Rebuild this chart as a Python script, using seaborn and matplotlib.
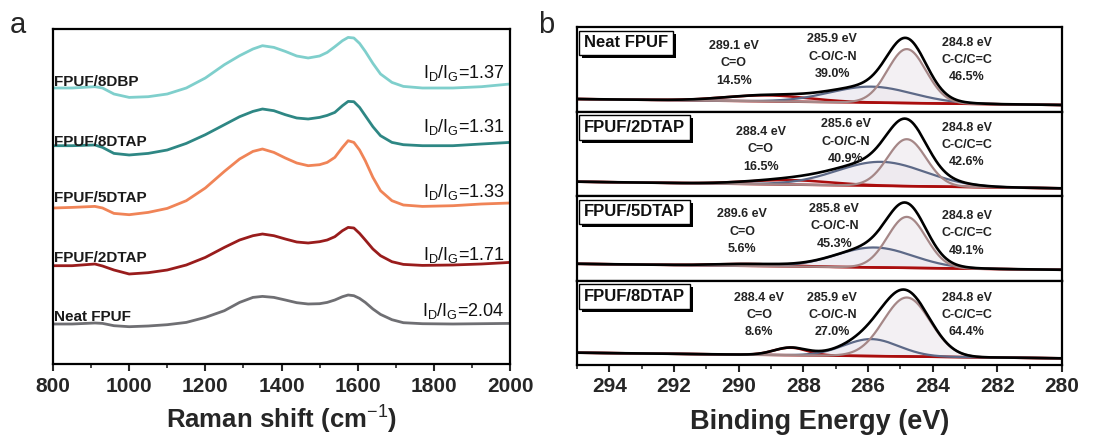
import numpy as np
import pandas as pd
import matplotlib
matplotlib.use("Agg")
import matplotlib.pyplot as plt
import matplotlib.patheffects as pe
from matplotlib.ticker import MultipleLocator
import seaborn as sns

# ---------------- data: Raman spectra (panel a) ----------------
raman_shift = [800, 850, 910, 930, 960, 1000, 1050, 1100, 1150, 1200, 1250, 1290, 1325, 1350,
               1380, 1410, 1440, 1470, 1500, 1520, 1540, 1560, 1575, 1590, 1605, 1620, 1640,
               1660, 1690, 1720, 1770, 1850, 1925, 2000]
raman_8dbp = [276.0, 276.0, 277.3, 276.0, 270.0, 266.6, 267.3, 270.0, 276.0, 286.0, 299.3, 308.3,
              315.0, 318.3, 316.6, 312.6, 308.0, 306.0, 308.0, 311.6, 317.3, 323.3, 326.6, 326.0,
              320.6, 312.6, 300.6, 290.0, 281.6, 277.6, 276.0, 276.0, 277.3, 280.0]
raman_8dtap = [218.3, 218.3, 219.0, 216.6, 210.6, 209.0, 210.6, 214.0, 220.6, 229.3, 239.3, 247.3,
               252.6, 255.0, 253.3, 249.3, 246.0, 245.0, 246.6, 248.6, 251.6, 258.3, 262.6, 262.3,
               256.6, 248.3, 237.3, 228.3, 221.6, 219.3, 218.3, 218.3, 220.0, 221.6]
raman_5dtap = [156.0, 156.6, 157.6, 156.0, 150.6, 149.3, 151.6, 155.6, 163.3, 176.0, 192.6, 205.0,
               212.6, 215.0, 211.6, 206.0, 201.0, 198.3, 199.3, 201.6, 206.6, 216.6, 223.3, 221.6,
               214.0, 203.3, 186.6, 173.3, 163.3, 159.0, 157.6, 158.3, 160.0, 161.0]
raman_2dtap = [98.3, 98.3, 100.0, 98.0, 94.0, 90.0, 91.3, 94.0, 99.0, 106.6, 116.6, 124.0,
               128.3, 130.0, 128.3, 125.0, 122.0, 121.0, 122.3, 124.0, 127.3, 133.3, 136.6, 136.0,
               130.6, 124.0, 115.0, 108.3, 102.3, 99.6, 98.6, 99.0, 100.0, 101.6]
raman_neat = [40.0, 40.0, 41.0, 40.6, 38.3, 37.3, 38.0, 39.3, 41.6, 46.6, 53.3, 61.6,
              66.6, 67.6, 66.6, 64.0, 61.3, 60.0, 60.3, 61.6, 64.0, 67.3, 69.0, 68.3,
              65.6, 61.6, 55.0, 49.6, 44.3, 41.3, 40.3, 40.0, 40.3, 40.6]
raman_names = ["FPUF/8DBP", "FPUF/8DTAP", "FPUF/5DTAP", "FPUF/2DTAP", "Neat FPUF"]
raman_ratio = ["1.37", "1.31", "1.33", "1.71", "2.04"]

# ---------------- data: XPS C1s fits (panel b) ----------------
xps_names = ["Neat FPUF", "FPUF/2DTAP", "FPUF/5DTAP", "FPUF/8DTAP"]
cc_center = [284.8, 284.8, 284.8, 284.8]
cc_height = [54, 47, 51, 59]
cc_fwhm = [1.4, 1.4, 1.4, 1.7]
cc_pct = ["46.5%", "42.6%", "49.1%", "64.4%"]
con_center = [285.9, 285.6, 285.8, 285.9]
con_height = [16, 24, 20, 17]
con_fwhm = [3.0, 3.2, 2.8, 2.0]
con_pct = ["39.0%", "40.9%", "45.3%", "27.0%"]
cdo_center = [289.1, 288.4, 289.6, 288.4]
cdo_height = [6, 4.5, 2, 7.5]
cdo_fwhm = [3.0, 3.0, 2.5, 1.2]
cdo_pct = ["14.5%", "16.5%", "5.6%", "8.6%"]
base_hi_be = [12.5, 14.3, 16.7, 12.3]   # background at 295 eV
base_lo_be = [6.5, 7.7, 10.7, 6.7]      # background at 280 eV

# ---------------- style ----------------
sns.set_theme(style="ticks")
plt.rcParams["font.family"] = ["Liberation Sans", "DejaVu Sans"]
plt.rcParams["mathtext.fontset"] = "custom"
plt.rcParams["mathtext.rm"] = "Liberation Sans"
plt.rcParams["mathtext.bf"] = "Liberation Sans:bold"
plt.rcParams["axes.linewidth"] = 1.6

fig = plt.figure(figsize=(10.93, 4.45), dpi=100)

# ---------------- panel a ----------------
axa = fig.add_axes([53 / 1093, 1 - 364 / 445, (510 - 53) / 1093, (364 - 29) / 445])
raman_cols = ["#7fcfcc", "#2e8784", "#f08457", "#991c1c", "#6f6f73"]
raman_sets = [raman_8dbp, raman_8dtap, raman_5dtap, raman_2dtap, raman_neat]
name_y = [278.3, 217.6, 161.6, 101.6, 42.6]
ratio_y = [286.0, 231.6, 166.6, 104.0, 48.3]
for vals, col, nm, rt, ny, ry in zip(raman_sets, raman_cols, raman_names, raman_ratio, name_y, ratio_y):
    df = pd.DataFrame({"shift": raman_shift, "I": vals})
    sns.lineplot(data=df, x="shift", y="I", color=col, lw=2.0, ax=axa)
    axa.text(803, ny, nm, fontsize=11, fontweight="bold", ha="left", va="baseline",
             color="#1a1a1a")
    axa.text(1986, ry, r"I$_\mathregular{D}$/I$_\mathregular{G}$=" + rt, fontsize=13,
             ha="right", va="baseline", color="#111111")
axa.set_xlim(800, 2000)
axa.set_ylim(0, 335)
axa.set_yticks([])
axa.set_ylabel("")
axa.xaxis.set_major_locator(MultipleLocator(200))
axa.xaxis.set_minor_locator(MultipleLocator(100))
axa.tick_params(axis="x", which="major", direction="out", length=5, width=1.5,
                labelsize=15, pad=4)
axa.tick_params(axis="x", which="minor", direction="out", length=3, width=1.2)
for lab in axa.get_xticklabels():
    lab.set_fontweight("bold")
axa.set_xlabel(r"Raman shift (cm$^{-1}$)", fontsize=18.5, fontweight="bold", labelpad=5)
for s in axa.spines.values():
    s.set_visible(True)
    s.set_linewidth(1.6)
    s.set_color("black")

# ---------------- panel b ----------------
left_b, right_b = 577 / 1093, 1062 / 1093
top_px, bot_px = 27, 365
h_px = (bot_px - top_px) / 4
energy = np.linspace(280, 295, 601)


def gauss(e, c, h, w):
    return h * np.exp(-4 * np.log(2) * ((e - c) / w) ** 2)


lab_x = [[290.15, 287.1, 282.95], [289.32, 286.68, 282.95],
         [289.89, 287.04, 282.95], [289.37, 287.1, 282.95]]
lab_y = [[48.2, 54.8, 51.5], [46.7, 54.3, 51.0],
         [48.7, 54.3, 47.0], [50.0, 50.0, 50.0]]

for i in range(4):
    y0 = 1 - (top_px + (i + 1) * h_px) / 445
    ax = fig.add_axes([left_b, y0, right_b - left_b, h_px / 445])
    base = base_lo_be[i] + (energy - 280) / 15 * (base_hi_be[i] - base_lo_be[i])
    cc = base + gauss(energy, cc_center[i], cc_height[i], cc_fwhm[i])
    con = base + gauss(energy, con_center[i], con_height[i], con_fwhm[i])
    cdo = base + gauss(energy, cdo_center[i], cdo_height[i], cdo_fwhm[i])
    env = cc + con + cdo - 2 * base
    ax.fill_between(energy, base, con, color="#e9e6ee", alpha=0.7, lw=0)
    ax.fill_between(energy, base, cc, color="#eeeaee", alpha=0.7, lw=0)
    sns.lineplot(x=energy, y=base, color="#aa0d0d", lw=1.8, ax=ax)
    sns.lineplot(x=energy, y=cdo, color="#aa0d0d", lw=1.8, ax=ax)
    sns.lineplot(x=energy, y=con, color="#5d6987", lw=1.6, ax=ax)
    sns.lineplot(x=energy, y=cc, color="#a58787", lw=1.6, ax=ax)
    sns.lineplot(x=energy, y=env, color="black", lw=1.9, ax=ax)
    ax.set_xlim(295, 280)
    ax.set_ylim(0, h_px)
    ax.set_yticks([])
    ax.set_ylabel("")
    for s in ax.spines.values():
        s.set_visible(True)
        s.set_linewidth(1.6)
        s.set_color("black")
    t = ax.text(0.014, 0.9, xps_names[i], transform=ax.transAxes, fontsize=12,
                fontweight="bold", ha="left", va="top", color="#111111",
                bbox=dict(boxstyle="square,pad=0.28", fc="white", ec="black", lw=1.0))
    t.get_bbox_patch().set_path_effects([
        pe.withSimplePatchShadow(offset=(2.2, -2.2), shadow_rgbFace="black", alpha=1.0)])
    blocks = [f"{cdo_center[i]:.1f} eV\nC=O\n{cdo_pct[i]}",
              f"{con_center[i]:.1f} eV\nC-O/C-N\n{con_pct[i]}",
              f"{cc_center[i]:.1f} eV\nC-C/C=C\n{cc_pct[i]}"]
    for txt, bx, by in zip(blocks, lab_x[i], lab_y[i]):
        ax.text(bx, by, txt, fontsize=9, fontweight="bold", ha="center", va="center",
                linespacing=1.6, color="#222222")
    ax.xaxis.set_major_locator(MultipleLocator(2))
    ax.xaxis.set_minor_locator(MultipleLocator(1))
    if i < 3:
        ax.tick_params(axis="x", which="both", length=0, labelbottom=False)
        ax.set_xlabel("")
    else:
        ax.tick_params(axis="x", which="major", direction="out", length=5, width=1.5,
                       labelsize=15, pad=4)
        ax.tick_params(axis="x", which="minor", direction="out", length=3, width=1.2)
        for lab in ax.get_xticklabels():
            lab.set_fontweight("bold")
        ax.set_xlabel("Binding Energy (eV)", fontsize=19.5, fontweight="bold", labelpad=9)

fig.text(10 / 1093, 1 - 33 / 445, "a", fontsize=21, ha="left", va="baseline")
fig.text(538 / 1093, 1 - 33 / 445, "b", fontsize=21, ha="left", va="baseline")

fig.savefig("out.png", dpi=100)
